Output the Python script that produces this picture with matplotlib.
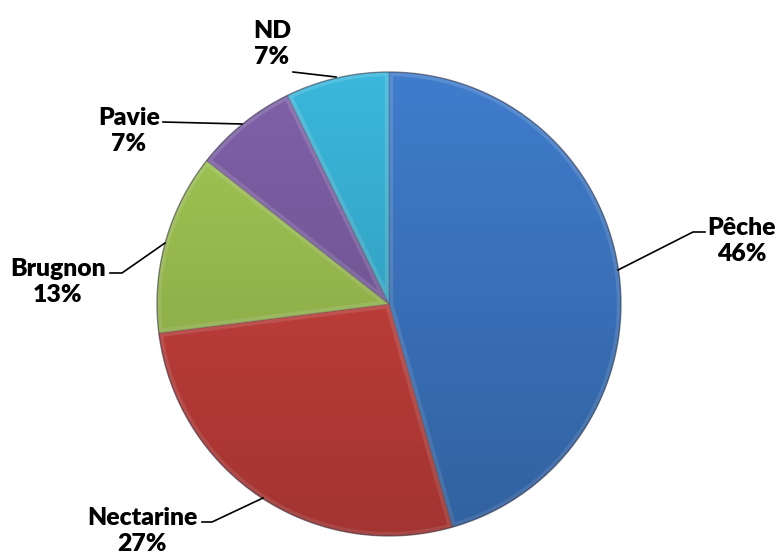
import numpy as np
import matplotlib.pyplot as plt
from matplotlib.patches import Circle, Wedge

# Data
labels = ['Pêche', 'Nectarine', 'Brugnon', 'Pavie', 'ND']
values = [45.6, 27.4, 12.6, 7.2, 7.2]
colors = ['#3f7ccc', '#d0433f', '#a3c854', '#7f61a8', '#3ab7db']

# label text centres (pixels) and leader-line paths
label_pos = [(742, 241), (142, 531), (58, 282), (129, 131), (272, 44)]
leaders = [
    [(618, 270), (693, 232), (705, 232)],
    [(263, 498), (212, 522), (202, 522)],
    [(165, 243), (122, 273), (110, 273)],
    [(242, 124), (163, 122)],
    [(336, 77), (293, 72)],
]

W, H = 779, 554
fig = plt.figure(figsize=(W / 100, H / 100), dpi=100)
ax = fig.add_axes([0, 0, 1, 1])

cx, cy, r = 389, 304, 232
# y axis runs downwards (pixel-like), so start at -90 = top, counterclock -> clockwise on screen
wedges, _ = ax.pie(values, colors=colors, startangle=-90, counterclock=True,
                   center=(cx, cy), radius=r, frame=True,
                   wedgeprops=dict(edgecolor=(0.2, 0.2, 0.2, 0.3), linewidth=0.8))
ax.set_xlim(0, W)
ax.set_ylim(H, 0)
ax.set_aspect('equal')
ax.axis('off')

# soft bevel: light inner rim on each wedge
for w in wedges:
    rim = Wedge(w.center, w.r, w.theta1, w.theta2, facecolor='none',
                edgecolor=(1, 1, 1, 0.14), linewidth=6, zorder=2)
    ax.add_patch(rim)
    rim.set_clip_path(w)

# shading: darker towards the bottom, clipped to the pie disc
grad = np.linspace(0, 1, 256).reshape(-1, 1)
shade = np.zeros((256, 1, 4))
shade[..., 3] = 0.22 * grad
im = ax.imshow(shade, extent=(cx - r, cx + r, cy + r, cy - r), zorder=3,
               aspect='auto', interpolation='bilinear')
im.set_clip_path(Circle((cx, cy), r, transform=ax.transData))
ax.add_patch(Circle((cx, cy), r, fill=False, edgecolor=(0.1, 0.1, 0.2, 0.35),
                    linewidth=1.0, zorder=4))
ax.set_xlim(0, W)
ax.set_ylim(H, 0)

for lab, val, (tx, ty), path in zip(labels, values, label_pos, leaders):
    ax.text(tx, ty, f'{lab}\n{val:.0f}%', ha='center', va='center',
            fontsize=17.8, fontweight='heavy', family='Lato', linespacing=1.25,
            color='black', zorder=5)
    xs, ys = zip(*path)
    ax.plot(xs, ys, color='black', linewidth=1.2, zorder=5)

fig.savefig('out.png', dpi=100)
